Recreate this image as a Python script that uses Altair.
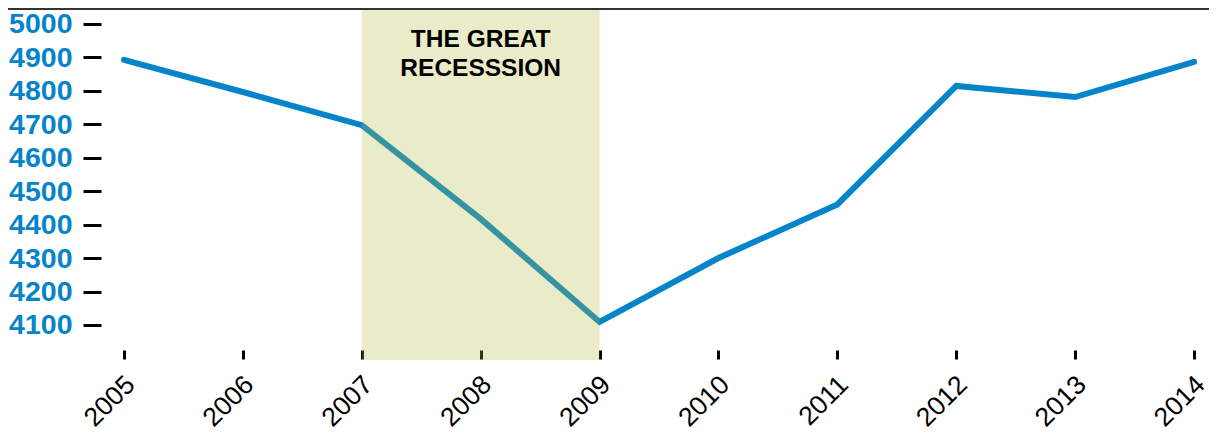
import altair as alt
import pandas as pd

years = [2005, 2006, 2007, 2008, 2009, 2010, 2011, 2012, 2013, 2014]
values = [4892, 4796, 4697, 4417, 4109, 4300, 4460, 4814, 4781, 4886]
y_ticks = [4100, 4200, 4300, 4400, 4500, 4600, 4700, 4800, 4900, 5000]
recession_start = [2007]
recession_end = [2009]
recession_label = ["THE GREAT\nRECESSSION"]

W, H = 1097, 341
PAD_L, PAD_R = 93, 11
BLUE = "#0584CA"

df = pd.DataFrame({"year": years, "value": values})
rect_df = pd.DataFrame({"start": recession_start, "end": recession_end})
label_df = pd.DataFrame({"x": [(recession_start[0] + recession_end[0]) / 2],
                         "y": [4929], "text": recession_label})

xscale = alt.Scale(domain=[2004.8066, 2014.0328], nice=False, zero=False)
yscale = alt.Scale(domain=[4025.3, 5043.9], nice=False, zero=False)

x_axis = alt.Axis(
    values=years, format="d", title=None, domain=False, grid=False,
    tickSize=9, tickWidth=3, tickColor="black", offset=0,
    labelAngle=-45, labelFontSize=26.5, labelColor="black",
    labelFont="Liberation Sans", labelPadding=12, labelOverlap=False,
    labelAlign="right", labelBaseline="top", labelBound=False, labelOffset=-3)
y_axis = alt.Axis(
    values=y_ticks, format="d", title=None, domain=False, grid=False,
    tickSize=18, tickWidth=3, tickColor="black", labelOverlap=False,
    labelFontSize=28.5, labelFontWeight="bold", labelColor=BLUE,
    labelFont="Liberation Sans", labelPadding=11, labelBound=False)

line = alt.Chart(df).mark_line(
    color=BLUE, strokeWidth=6, strokeCap="round", clip=False
).encode(
    x=alt.X("year:Q", scale=xscale, axis=x_axis),
    y=alt.Y("value:Q", scale=yscale, axis=y_axis),
)

rect = alt.Chart(rect_df).mark_rect(
    color="#B4BC3C", opacity=0.28
).encode(
    x=alt.X("start:Q", scale=xscale, axis=x_axis), x2="end:Q",
    y=alt.value(0), y2=alt.value(351),
)

label = alt.Chart(label_df).mark_text(
    fontSize=24.5, fontWeight="bold", font="Liberation Sans", color="black",
    align="center", baseline="alphabetic", lineBreak="\n", lineHeight=29
).encode(
    x=alt.X("x:Q", scale=xscale, axis=x_axis),
    y=alt.Y("y:Q", scale=yscale, axis=y_axis),
    text="text:N",
)

top_rule = alt.Chart(label_df).mark_rule(color="#333333", strokeWidth=2).encode(
    x=alt.value(-PAD_L), x2=alt.value(W + PAD_R), y=alt.value(0)
)

chart = alt.layer(line, rect, label, top_rule).properties(
    width=W, height=H,
    autosize=alt.AutoSizeParams(type="none"),
    padding={"left": PAD_L, "top": 1, "right": PAD_R, "bottom": 82},
).configure_view(stroke=None)

chart.save("out.html", embed_options={"renderer": "svg", "actions": False})
